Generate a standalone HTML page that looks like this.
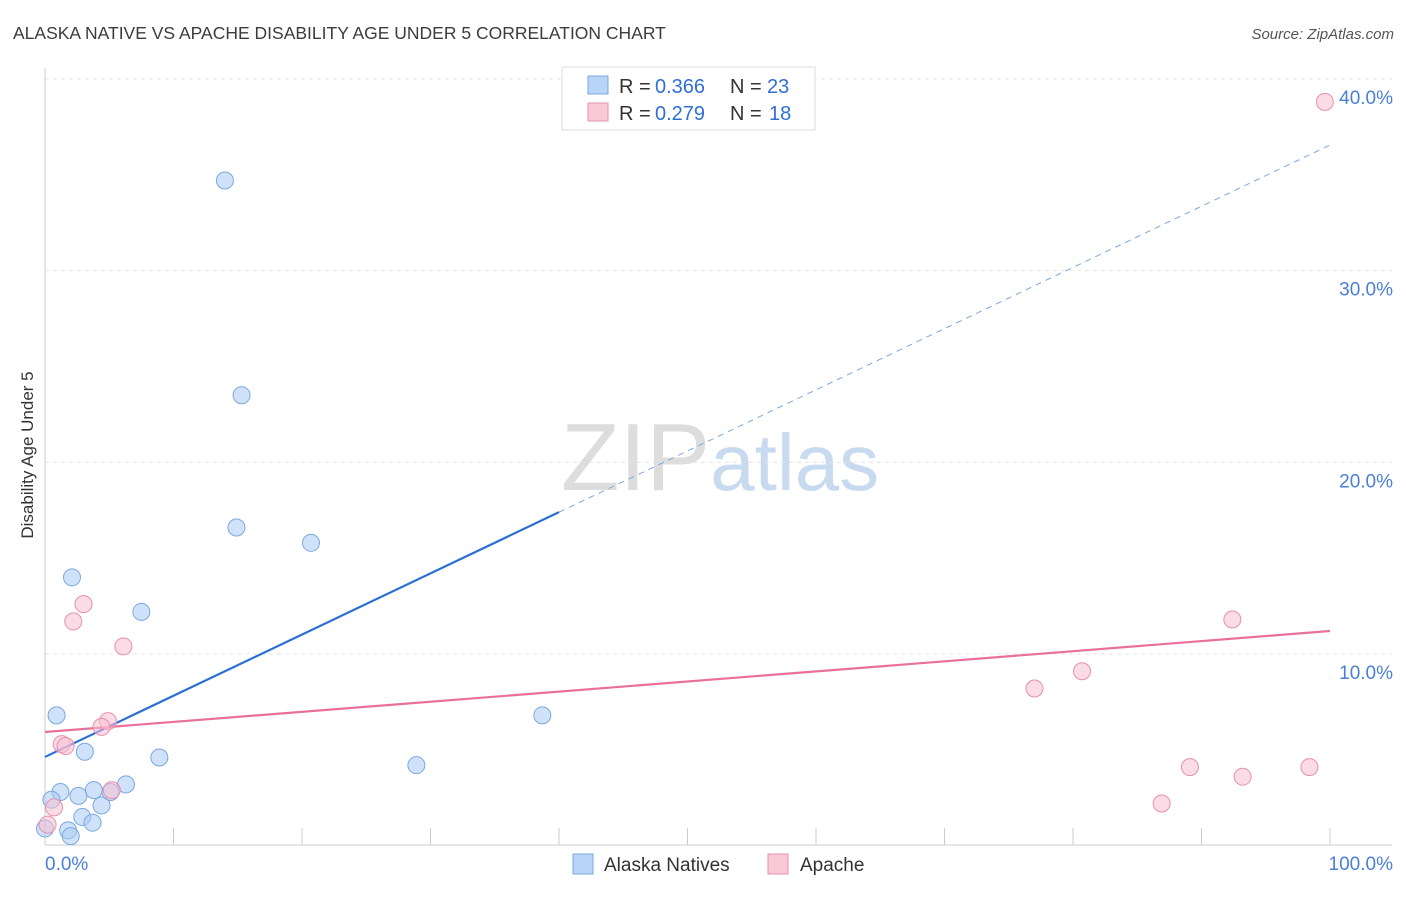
<!DOCTYPE html>
<html><head><meta charset="utf-8"><style>
body{margin:0;background:#fff;font-family:"Liberation Sans",sans-serif}
svg text{font-family:"Liberation Sans",sans-serif}
</style></head><body>
<svg id="chart" width="1406" height="892" xmlns="http://www.w3.org/2000/svg">
<text x="13" y="39" font-size="17.5" fill="#3c3c3c">ALASKA NATIVE VS APACHE DISABILITY AGE UNDER 5 CORRELATION CHART</text>
<text x="1394" y="39" font-size="15" fill="#555" font-style="italic" text-anchor="end">Source: ZipAtlas.com</text>
<text x="720" y="490" font-size="96" text-anchor="middle" font-family="Liberation Serif" fill="#ddd"><tspan>ZIP</tspan><tspan fill="#c8daf0" font-family="Liberation Sans" font-size="80">atlas</tspan></text>
<text transform="translate(33,455) rotate(-90)" font-size="17" fill="#333" text-anchor="middle">Disability Age Under 5</text>
<g id="grid"></g><g id="axes"></g><g id="lines"></g><g id="pts"></g>
<g>
<rect x="562" y="67" width="253" height="63" fill="#fff" stroke="#ddd"/>
<rect x="588" y="76" width="20" height="18" fill="#b8d4f6" stroke="#7aa8e0"/>
<text x="619" y="93" font-size="20" fill="#333">R =</text>
<text x="655" y="93" font-size="20" fill="#2f6fd6">0.366</text>
<text x="730" y="93" font-size="20" fill="#333">N =</text>
<text x="767" y="93" font-size="20" fill="#2f6fd6">23</text>
<rect x="588" y="103" width="20" height="18" fill="#f9c9d8" stroke="#e890ad"/>
<text x="619" y="120" font-size="20" fill="#333">R =</text>
<text x="655" y="120" font-size="20" fill="#2f6fd6">0.279</text>
<text x="730" y="120" font-size="20" fill="#333">N =</text>
<text x="769" y="120" font-size="20" fill="#2f6fd6">18</text>
</g>
<g>
<rect x="573" y="854" width="20" height="20" fill="#b8d4f6" stroke="#7aa8e0"/>
<text x="604" y="871" font-size="19" fill="#333">Alaska Natives</text>
<rect x="768" y="854" width="20" height="20" fill="#f9c9d8" stroke="#e890ad"/>
<text x="800" y="871" font-size="19" fill="#333">Apache</text>
</g>
</svg>
<script>
const yTicks=[10,20,30,40];
const yTickLabels=["10.0%","20.0%","30.0%","40.0%"];
const blueX=[14.0,15.3,14.9,20.7,2.1,7.5,0.9,38.7,3.1,8.9,28.9,1.2,2.6,3.8,5.1,6.3,0.5,4.4,2.9,3.7,1.8,2.0,0.0];
const blueY=[34.7,23.5,16.6,15.8,14.0,12.2,6.8,6.8,4.9,4.6,4.2,2.8,2.6,2.9,2.8,3.2,2.4,2.1,1.5,1.2,0.8,0.5,0.9];
const pinkX=[99.6,3.0,2.2,6.1,4.9,4.4,1.3,1.6,92.4,80.7,77.0,89.1,93.2,98.4,86.9,5.2,0.7,0.2];
const pinkY=[38.8,12.6,11.7,10.4,6.5,6.2,5.3,5.2,11.8,9.1,8.2,4.1,3.6,4.1,2.2,2.9,2.0,1.1];
const blueTrend=[4.63,36.55];
const pinkTrend=[5.93,11.2];
const NS="http://www.w3.org/2000/svg";
const sx=v=>45+v*12.85, sy=v=>845.7-v*19.17;
function mk(p,t,a){const e=document.createElementNS(NS,t);for(const k in a)e.setAttribute(k,a[k]);document.getElementById(p).appendChild(e);return e;}
yTicks.forEach((t,i)=>{
 let g=mk('grid','line',{x1:45,x2:1392,y1:sy(t),y2:sy(t),stroke:'#e3e3e3','stroke-dasharray':'4,4'});
 
 
 let l=mk('axes','text',{x:1393,y:sy(t)+25,'font-size':19,fill:'#4a7fd4','text-anchor':'end'});l.textContent=yTickLabels[i];
 
 
});
let ax=mk('axes','line',{x1:45,x2:1392,y1:845,y2:845,stroke:'#ccc'});


let ay=mk('axes','line',{x1:45,x2:45,y1:68,y2:845,stroke:'#ccc'});


for(let i=0;i<=10;i++){let t=mk('axes','line',{x1:sx(i*10),x2:sx(i*10),y1:828,y2:845,stroke:'#ccc'});
 
 }
let x0=mk('axes','text',{x:45,y:870,'font-size':19,fill:'#4a7fd4'});x0.textContent='0.0%';


let x1=mk('axes','text',{x:1393,y:870,'font-size':19,fill:'#4a7fd4','text-anchor':'end'});x1.textContent='100.0%';


const bAt=x=>blueTrend[0]+(blueTrend[1]-blueTrend[0])*x/100;
let bs=mk('lines','line',{x1:sx(0),y1:sy(bAt(0)),x2:sx(40),y2:sy(bAt(40)),stroke:'#2a6fd6','stroke-width':2.2});


let bd=mk('lines','line',{x1:sx(40),y1:sy(bAt(40)),x2:sx(100),y2:sy(bAt(100)),stroke:'#7aa8e0','stroke-width':1,'stroke-dasharray':'6,5'});


let pl=mk('lines','line',{x1:sx(0),y1:sy(pinkTrend[0]),x2:sx(100),y2:sy(pinkTrend[1]),stroke:'#e8709a','stroke-width':2.2});


blueX.forEach((x,i)=>{let c=mk('pts','circle',{cx:sx(x),cy:sy(blueY[i]),r:8.5,fill:'rgba(170,202,244,0.55)',stroke:'#7aa8e0'});
 
 });
pinkX.forEach((x,i)=>{let c=mk('pts','circle',{cx:sx(x),cy:sy(pinkY[i]),r:8.5,fill:'rgba(248,190,210,0.55)',stroke:'#e890ad'});
 
 });
</script>
</body></html>
